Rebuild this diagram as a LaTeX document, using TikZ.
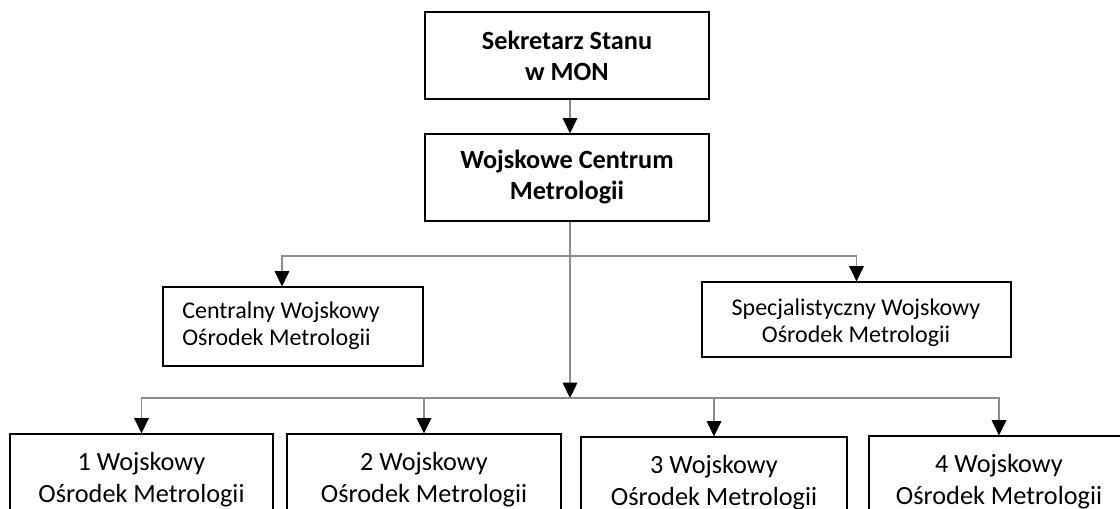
\documentclass[tikz,border=0pt]{standalone}
\usepackage{fontspec}
\setmainfont{Carlito}
\usetikzlibrary{arrows.meta}
\newcommand\linesC[2]{\begin{tabular}[t]{@{}c@{}}#1\\#2\end{tabular}}
\newcommand\linesL[2]{\begin{tabular}[t]{@{}l@{}}#1\\#2\end{tabular}}
\begin{document}
\begin{tikzpicture}[x=0.75pt,y=-0.75pt,
  box/.style={draw=black, line width=0.9pt, rectangle, inner sep=0pt},
  topbox/.style={box, minimum width=213pt, minimum height=65.25pt},
  conn/.style={draw=black!45, line width=0.9pt},
  arr/.style={conn, -{Triangle[length=11.5pt,width=11pt,color=black]}},
  boldtxt/.style={font=\fontsize{19.7}{23.25}\selectfont\bfseries, inner sep=0pt, anchor=base},
  midtxt/.style={font=\fontsize{18}{20.25}\selectfont, inner sep=0pt, anchor=base},
  lowtxt/.style={font=\fontsize{19.7}{24}\selectfont, inner sep=0pt, anchor=base},
]
\useasboundingbox (0,0) rectangle (1120,508);
\clip (0,0) rectangle (1120,508);

% boxes
\node[topbox] (sek) at (567,55.5) {};
\node[topbox] (wcm) at (567,177.5) {};
\node[box, minimum width=195pt, minimum height=59.25pt] (cwom) at (293,326.5) {};
\node[box, minimum width=231.75pt, minimum height=56.25pt] (swom) at (856.5,319.5) {};
\node[box, minimum width=197.25pt, minimum height=65.25pt] (w1) at (141.5,477.5) {};
\node[box, minimum width=205.5pt, minimum height=65.25pt] (w2) at (424,477.5) {};
\node[box, minimum width=199.5pt, minimum height=65.25pt] (w3) at (714,480.5) {};
\node[box, minimum width=195pt, minimum height=65.25pt] (w4) at (999,479.5) {};

% texts
\node[boldtxt] (sekt) at (567,49) {\linesC{Sekretarz Stanu}{w MON}};
\node[boldtxt] (wcmt) at (567,168) {\linesC{Wojskowe Centrum}{Metrologii}};
\node[midtxt, anchor=base west] (cwomt) at (182,318) {\linesL{Centralny Wojskowy}{Ośrodek Metrologii}};
\node[midtxt] (swomt) at (856,315) {\linesC{Specjalistyczny Wojskowy}{Ośrodek Metrologii}};
\node[lowtxt] (w1t) at (141.5,470) {\linesC{1 Wojskowy}{Ośrodek Metrologii}};
\node[lowtxt] (w2t) at (424,470) {\linesC{2 Wojskowy}{Ośrodek Metrologii}};
\node[lowtxt] (w3t) at (714,473) {\linesC{3 Wojskowy}{Ośrodek Metrologii}};
\node[lowtxt] (w4t) at (999,472) {\linesC{4 Wojskowy}{Ośrodek Metrologii}};

% junctions
\coordinate (j1) at (570,256);
\coordinate (j2) at (570,398);

% connectors
\draw[arr] ([xshift=2.25pt]sek.south) -- ([xshift=2.25pt]wcm.north);
\draw[arr] ([xshift=2.25pt]wcm.south) -- (j2);
\draw[arr] (j1) -| ([xshift=-8.25pt]cwom.north);
\draw[arr] (j1) -| (swom.north);
\draw[arr] (j2) -| (w1.north);
\draw[arr] (j2) -| (w2.north);
\draw[arr] (j2) -| (w3.north);
\draw[arr] (j2) -| (w4.north);
\end{tikzpicture}
\end{document}
